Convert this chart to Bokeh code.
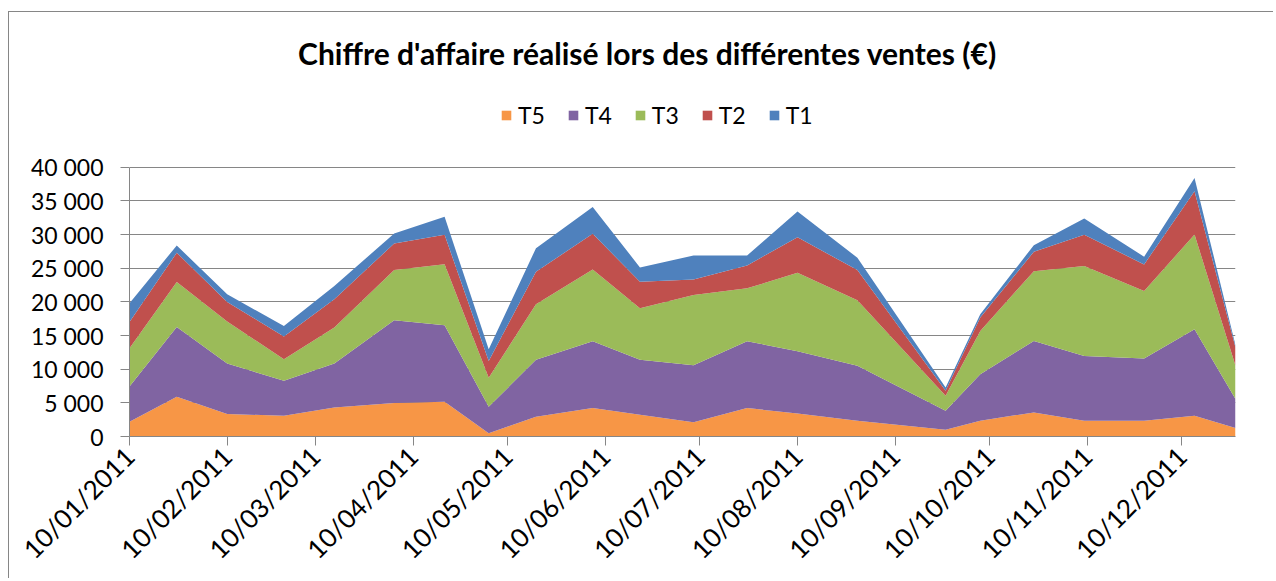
import math
import pandas as pd
from bokeh.plotting import figure
from bokeh.models import (ColumnDataSource, Range1d, FixedTicker, DatetimeTickFormatter,
                          Legend, LegendItem, Label)
from bokeh.embed import file_html
from bokeh.resources import INLINE

# ---------------- data ----------------
dates = ["2011-01-10", "2011-01-25", "2011-02-10", "2011-02-28", "2011-03-16",
         "2011-04-04", "2011-04-20", "2011-05-04", "2011-05-19", "2011-06-06",
         "2011-06-21", "2011-07-08", "2011-07-25", "2011-08-10", "2011-08-29",
         "2011-09-26", "2011-10-07", "2011-10-24", "2011-11-09", "2011-11-28",
         "2011-12-14", "2011-12-27"]
T5 = [2200, 5900, 3330, 3090, 4320, 4960, 5160, 470, 2940, 4220, 3230,
      2100, 4220, 3430, 2350, 1010, 2350, 3580, 2350, 2350, 3090, 1260]
T4 = [5240, 10370, 7510, 5180, 6520, 12300, 11360, 3950, 8440, 9930, 8150,
      8490, 9930, 9240, 8140, 2820, 6910, 10620, 9620, 9230, 12840, 4300]
T3 = [5670, 6670, 6230, 3210, 5330, 7450, 9080, 4290, 8250, 10660, 7660,
      10420, 7850, 11650, 9730, 2220, 6410, 10360, 13340, 10020, 14070, 4930]
T2 = [3900, 4350, 2900, 3360, 4200, 3960, 4350, 2520, 4840, 5290, 3950,
      2320, 3410, 5280, 4490, 740, 1990, 2870, 4640, 3960, 6420, 2720]
T1 = [2770, 1080, 1140, 1580, 1980, 1480, 2670, 1730, 3500, 4000, 2120,
      3560, 1480, 3810, 1840, 500, 490, 990, 2420, 1140, 1980, 350]

series_names = ["T5", "T4", "T3", "T2", "T1"]
colors = ["#F79646", "#8064A2", "#9BBB59", "#C0504D", "#4F81BD"]

xtick_dates = ["2011-01-10", "2011-02-10", "2011-03-10", "2011-04-10", "2011-05-10",
               "2011-06-10", "2011-07-10", "2011-08-10", "2011-09-10", "2011-10-10",
               "2011-11-10", "2011-12-10"]
ytick_values = [0, 5000, 10000, 15000, 20000, 25000, 30000, 35000, 40000]
ytick_labels = ["0", "5 000", "10 000", "15 000", "20 000", "25 000", "30 000", "35 000", "40 000"]
title_text = "Chiffre d'affaire réalisé lors des différentes ventes (€)"

# ---------------- layout constants ----------------
GRAY = "#868686"
FONT = "Lato"
W, H = 1265, 567
B_LEFT, B_RIGHT, B_TOP, B_BOTTOM = 120, 39, 20, 142
AXIS_PX = 270                      # pixel height of the 0..40000 band
frame_h = H - B_TOP - B_BOTTOM
y_end = ytick_values[-1] * frame_h / AXIS_PX

src = ColumnDataSource(dict(date=pd.to_datetime(dates), T5=T5, T4=T4, T3=T3, T2=T2, T1=T1))

p = figure(width=W, height=H, x_axis_type="datetime",
           output_backend="svg", toolbar_location=None,
           x_range=Range1d(pd.Timestamp(dates[0]), pd.Timestamp(dates[-1])),
           y_range=Range1d(0, y_end),
           min_border_left=B_LEFT, min_border_right=B_RIGHT,
           min_border_top=B_TOP, min_border_bottom=B_BOTTOM)
p.title.visible = False
p.margin = (12, 0, 0, 9)
p.styles = {"box-shadow": "-1px -1px 0px 0px #868686"}
p.outline_line_color = None
p.background_fill_color = "white"
p.border_fill_color = "white"

renderers = p.varea_stack(stackers=series_names, x="date", color=colors, source=src)

# axes
tick_ms = [pd.Timestamp(d).value / 1e6 for d in xtick_dates]
p.xaxis.ticker = FixedTicker(ticks=tick_ms)
fmt = "%d/%m/%Y"
p.xaxis.formatter = DatetimeTickFormatter(
    microseconds=fmt, milliseconds=fmt, seconds=fmt, minsec=fmt, minutes=fmt,
    hourmin=fmt, hours=fmt, days=fmt, months=fmt, years=fmt,
    strip_leading_zeros=False)
p.xaxis.major_label_orientation = math.pi / 4

p.yaxis.ticker = FixedTicker(ticks=ytick_values)
p.yaxis.major_label_overrides = dict(zip(ytick_values, ytick_labels))
p.yaxis.bounds = (ytick_values[0], ytick_values[-1])

for ax in (p.xaxis[0], p.yaxis[0]):
    ax.axis_line_color = GRAY
    ax.axis_line_width = 1
    ax.major_tick_line_color = GRAY
    ax.major_tick_out = 9
    ax.major_tick_in = 0
    ax.minor_tick_line_color = None
    ax.major_label_text_font = FONT
    ax.major_label_text_color = "black"
p.yaxis.major_label_text_font_size = "23px"
p.xaxis.major_label_text_font_size = "26px"
p.yaxis.major_label_standoff = 17
p.xaxis.major_label_standoff = 6

p.xgrid.visible = False
p.ygrid.grid_line_color = GRAY
p.ygrid.grid_line_width = 1

# legend
items = [LegendItem(label=n, renderers=[r]) for n, r in zip(series_names, renderers)]
legend = Legend(items=items, orientation="horizontal", location=(371, 307),
                glyph_width=12, glyph_height=12, label_standoff=6, spacing=22,
                padding=0, margin=0, border_line_color=None, background_fill_alpha=0,
                label_text_font=FONT, label_text_font_size="23px", label_text_color="black")
p.add_layout(legend)

# title
p.add_layout(Label(x=518, y=384, x_units="screen", y_units="screen", text=title_text,
                   text_align="center", text_baseline="alphabetic",
                   text_font=FONT, text_font_style="bold", text_font_size="30px",
                   text_color="black"))

open("out.html", "w").write(file_html(p, INLINE))
